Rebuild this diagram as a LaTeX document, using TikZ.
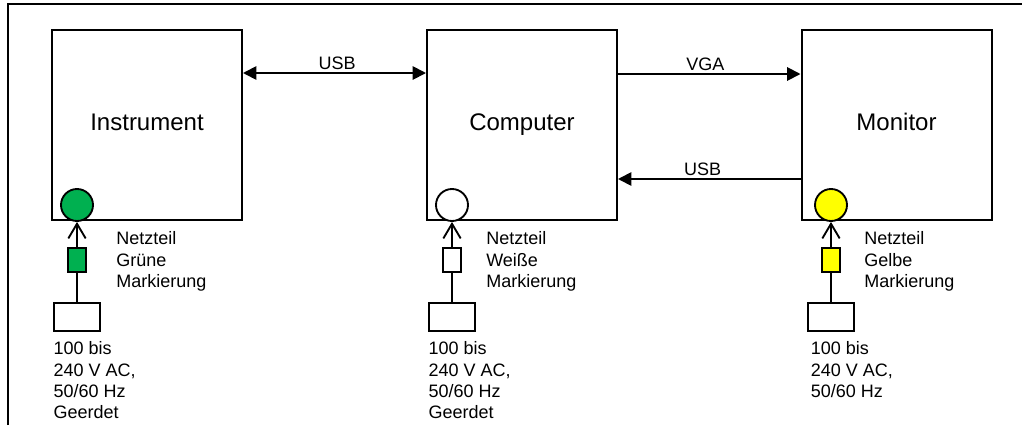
\documentclass[tikz,border=0pt]{standalone}
\usepackage{fontspec}
\setmainfont{Liberation Sans}
\usepackage{tikz}
\usetikzlibrary{arrows.meta,positioning}
\definecolor{MarkGreen}{HTML}{00B050}
\definecolor{MarkYellow}{HTML}{FFFF00}
\tikzset{
  device/.style={rectangle,draw,line width=1.5pt,minimum width=142.5pt,minimum height=142.5pt,text height=10pt,text depth=2.5pt,font=\fontsize{18}{22}\selectfont},
  ledmark/.style={circle,draw,line width=1.4pt,minimum size=24pt,inner sep=0pt},
  plugbox/.style={rectangle,draw,line width=1.4pt,minimum width=13.5pt,minimum height=18pt,inner sep=0pt},
  socket/.style={rectangle,draw,line width=1.5pt,minimum width=34pt,minimum height=21.5pt,inner sep=0pt},
  note/.style={align=left,inner sep=0pt,font=\fontsize{13.5}{16}\selectfont},
  lbl/.style={inner sep=1.5pt,font=\fontsize{13.5}{16}\selectfont},
  link/.style={-{Triangle[length=10pt,width=10pt]},line width=1.4pt},
  duplex/.style={{Triangle[length=10pt,width=10pt]}-{Triangle[length=10pt,width=10pt]},line width=1.4pt},
  feed/.style={-{Straight Barb[length=11pt,width=13pt]},line width=1.4pt},
  wire/.style={line width=1.4pt},
}

\begin{document}
\begin{tikzpicture}[x=0.75pt,y=-0.75pt]
  \useasboundingbox (0,0) rectangle (1024,425);
  \draw[line width=1.6pt] (8,425) -- (8,4) -- (1022,4);

  % Devices
  \node[device] (instr) at (147,125) {Instrument};
  \node[device] (comp) at (522,125) {Computer};
  \node[device] (mon) at (896.5,125) {Monitor};

  % Power supplies
  \node[ledmark, fill=MarkGreen] (instrmark) at (77,205) {};
  \node[plugbox, fill=MarkGreen] (instrplug) at (77,260) {};
  \node[socket, below=21.5pt of instrplug] (instrsocket) {};
  \node[note, anchor=north west] (instrnote) at (116,231.5) {Netzteil\\Grüne\\Markierung};
  \node[note, below=7pt of instrsocket.south west, anchor=north west] (instrmains) {100 bis\\240 V AC,\\50/60 Hz\\Geerdet};

  \node[ledmark, fill=white] (compmark) at (452,205) {};
  \node[plugbox, fill=white] (compplug) at (452,260) {};
  \node[socket, below=21.5pt of compplug] (compsocket) {};
  \node[note, anchor=north west] (compnote) at (486,231.5) {Netzteil\\Weiße\\Markierung};
  \node[note, below=7pt of compsocket.south west, anchor=north west] (compmains) {100 bis\\240 V AC,\\50/60 Hz\\Geerdet};

  \node[ledmark, fill=MarkYellow] (monmark) at (831,205) {};
  \node[plugbox, fill=MarkYellow] (monplug) at (831,260) {};
  \node[socket, below=21.5pt of monplug] (monsocket) {};
  \node[note, anchor=north west] (monnote) at (864,231.5) {Netzteil\\Gelbe\\Markierung};
  \node[note, below=7pt of monsocket.south west, anchor=north west, xshift=2.5pt] (monmains) {100 bis\\240 V AC,\\50/60 Hz};

  % Power lines
  \draw[wire] (instrsocket) -- (instrplug);
  \draw[feed] (instrplug) -- (instrmark);
  \draw[wire] (compsocket) -- (compplug);
  \draw[feed] (compplug) -- (compmark);
  \draw[wire] (monsocket) -- (monplug);
  \draw[feed] (monplug) -- (monmark);

  % Data links
  \draw[duplex] ([yshift=39pt]instr.east) -- node[lbl,above,xshift=2pt]{USB} ([yshift=39pt]comp.west);
  \draw[link] ([yshift=38.25pt]comp.east) -- node[lbl,above,xshift=-3pt]{VGA} ([yshift=38.25pt]mon.west);
  \draw[link] ([yshift=-40.5pt]mon.west) -- node[lbl,above,xshift=-5pt]{USB} ([yshift=-40.5pt]comp.east);

\end{tikzpicture}
\end{document}
